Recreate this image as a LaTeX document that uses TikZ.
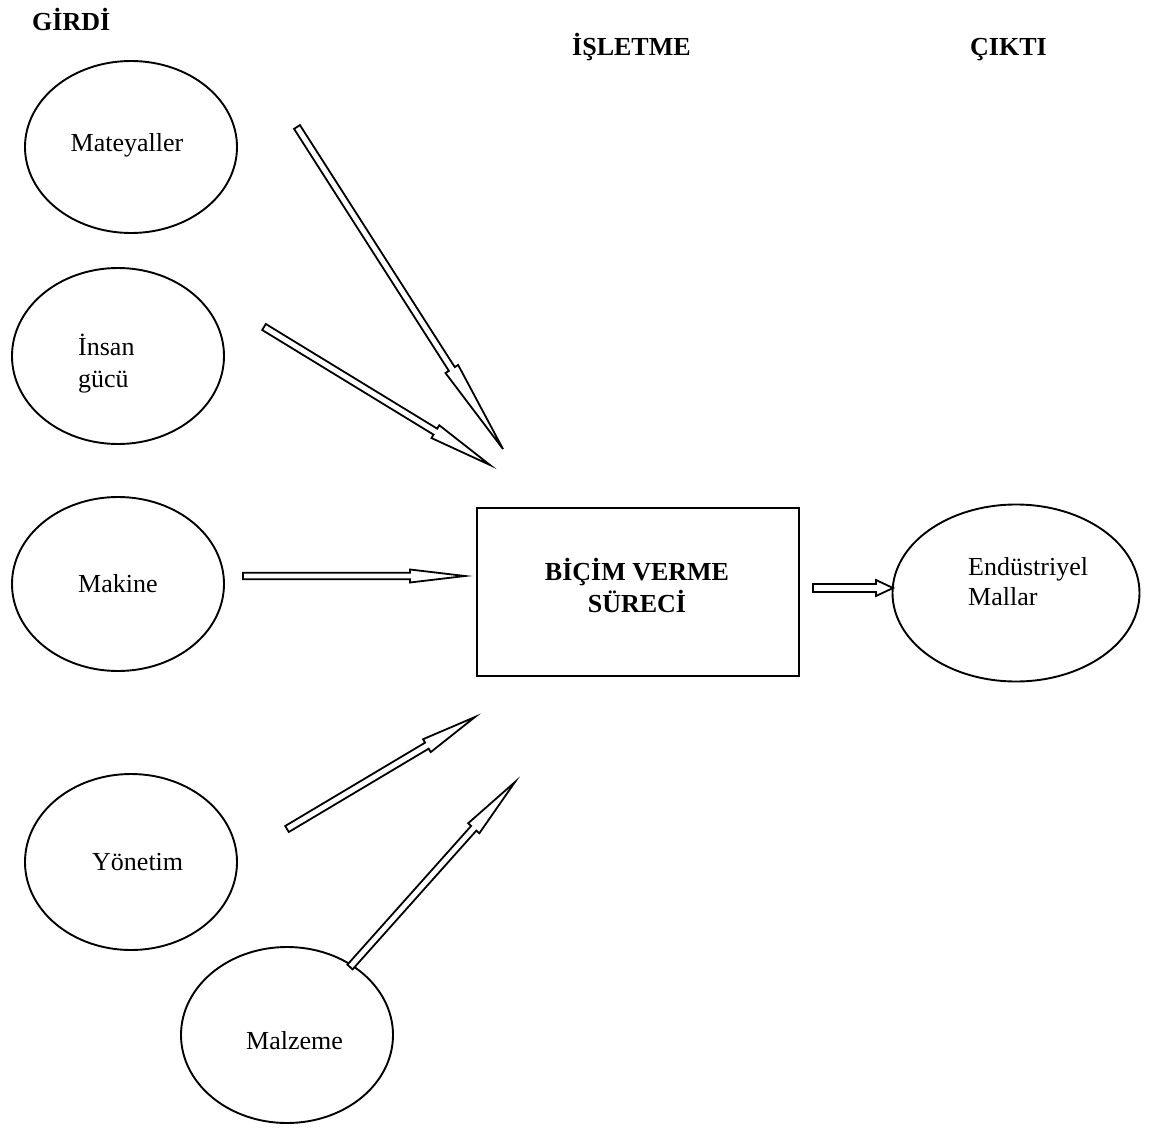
\documentclass[tikz,border=0pt]{standalone}
\usepackage{fontspec}
\setmainfont{Liberation Serif}
\usetikzlibrary{shapes.geometric,calc}

% Hollow block arrow: tail, tip, shaft half-width, head half-width, head length
\newcommand{\blockarrow}[5]{%
  \path ($(#2)!#5!(#1)$) coordinate (ba-b);
  \draw[blockline]
    ($(#1)!#3!90:(#2)$) -- ($(ba-b)!#3!-90:(#1)$) -- ($(ba-b)!#4!-90:(#1)$)
    -- (#2) -- ($(ba-b)!#4!90:(#1)$) -- ($(ba-b)!#3!90:(#1)$)
    -- ($(#1)!#3!-90:(#2)$) -- cycle;
}

\begin{document}
\begin{tikzpicture}[x=1pt,y=-1pt,
  txt/.style={font=\fontsize{26}{31}\selectfont, inner sep=0pt},
  head/.style={txt, font=\fontsize{26}{31}\selectfont\bfseries},
  oval/.style={draw, line width=1.9pt, ellipse, inner sep=0pt},
  proc/.style={draw, line width=1.9pt, rectangle, inner sep=0pt},
  blockline/.style={draw, line width=1.8pt, fill=white, line join=miter}]

\useasboundingbox (0,0) rectangle (1149,1135);

% column headings
\node[head, anchor=base west] (girdi) at (32,30) {GİRDİ};
\node[head, anchor=base west] (isletme) at (572,55) {İŞLETME};
\node[head, anchor=base west] (cikti) at (970,55) {ÇIKTI};

% input ovals
\node[oval, minimum width=212pt, minimum height=172pt] (mat) at (131,147) {};
\node[oval, minimum width=212pt, minimum height=176pt] (ins) at (118,356) {};
\node[oval, minimum width=212pt, minimum height=174pt] (mak) at (118,584) {};
\node[oval, minimum width=212pt, minimum height=176pt] (yon) at (131,862) {};
\node[oval, minimum width=212pt, minimum height=176pt] (mal) at (287,1035) {};

% output oval
\node[oval, minimum width=247pt, minimum height=177pt] (end) at (1016,593) {};

% process box
\node[proc, minimum width=322pt, minimum height=168pt] (box) at (638,592) {};

% labels
\node[txt, anchor=base] (matT) at (127,151) {Mateyaller};
\node[txt, anchor=base west] (insT1) at (78,355) {İnsan};
\node[txt, anchor=base west] (insT2) at (78,387) {gücü};
\node[txt, anchor=base west] (makT) at (78,592) {Makine};
\node[txt, anchor=base west] (yonT) at (92,870) {Yönetim};
\node[txt, anchor=base west] (malT) at (246,1049) {Malzeme};
\node[txt, anchor=base west] (endT1) at (968,575) {Endüstriyel};
\node[txt, anchor=base west] (endT2) at (968,605) {Mallar};
\node[head, anchor=base] (boxT1) at (637,580) {BİÇİM VERME};
\node[head, anchor=base] (boxT2) at (637,612) {SÜRECİ};

% arrow ends
\coordinate (a1s) at (297,127);  \coordinate (a1e) at (503,449);
\coordinate (a2s) at (264,327);  \coordinate (a2e) at (490,465);
\coordinate (a3s) at (243,576);  \coordinate (a3e) at (465,576);
\coordinate (a4s) at (813,588);  \coordinate (a4e) at (893,588);
\coordinate (a5s) at (287,829);  \coordinate (a5e) at (475,717);
\coordinate (a6s) at (350,967);  \coordinate (a6e) at (515,782);

% block arrows
\blockarrow{a1s}{a1e}{3.5pt}{7.5pt}{95pt}
\blockarrow{a2s}{a2e}{3.5pt}{7.5pt}{64pt}
\blockarrow{a3s}{a3e}{3.2pt}{6.5pt}{55pt}
\blockarrow{a4s}{a4e}{4pt}{8pt}{17pt}
\blockarrow{a5s}{a5e}{3.5pt}{7.5pt}{56pt}
\blockarrow{a6s}{a6e}{3.5pt}{7.5pt}{62pt}

\end{tikzpicture}
\end{document}
